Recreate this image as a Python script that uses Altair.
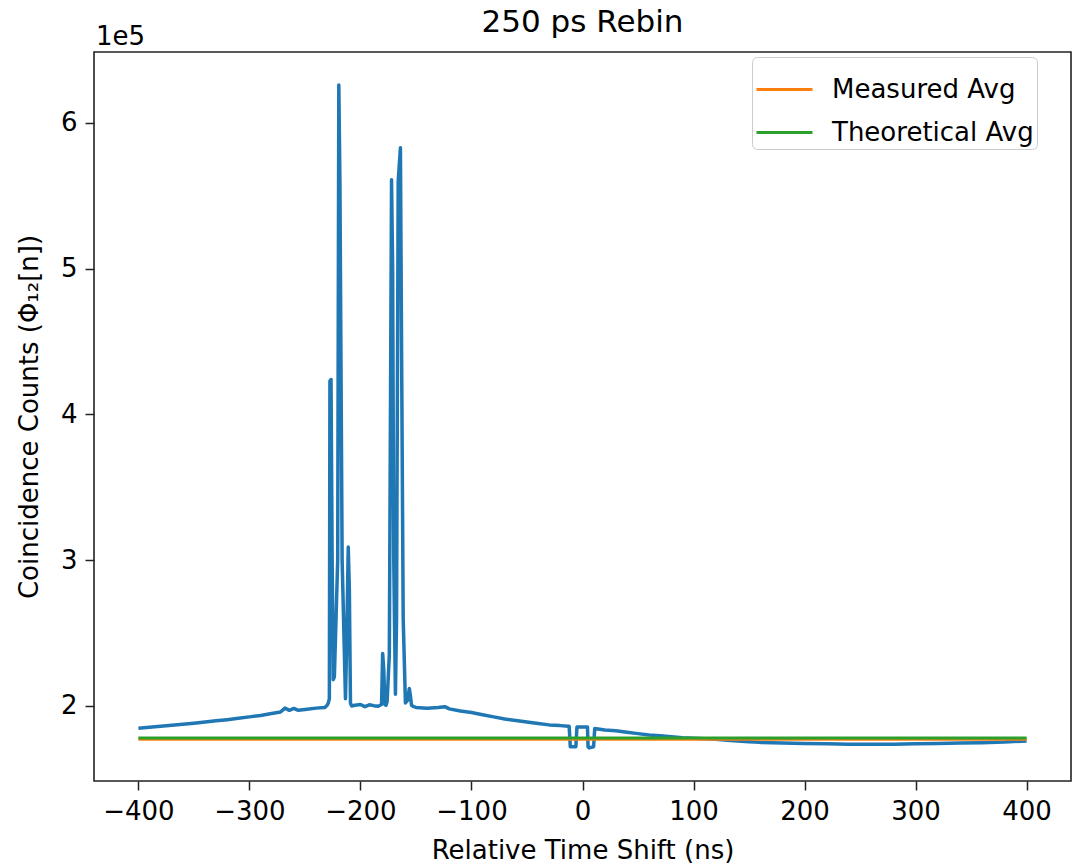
import altair as alt
import pandas as pd

# Relative time shift (ns) and coincidence counts
time_ns = [
    -400, -390, -380, -370, -360, -350, -340, -330, -320, -310, -300, -290,
    -280, -272, -268, -264, -260, -256, -250, -240, -232, -230, -229,
    -228.0, -227.5, -226.5, -225.5, -224.5, -223.5, -220.5, -219.5, -218.5,
    -216.5, -213.5, -212.5, -211.0, -210.0, -209.0, -208.0,
    -205, -200, -196, -192, -188, -184, -181, -180, -179, -178, -177, -176,
    -174, -172.0, -171.0, -170.0, -168.5, -167.5, -166.0, -164.0, -163.0,
    -161.5, -159.5, -157.5, -156.0, -155.0, -154.0, -152,
    -150, -140, -130, -124, -120, -110, -100, -90, -80, -70, -60, -50, -40,
    -30, -20, -13, -12, -11, -6, -5, 4.5, 5, 6, 10, 11, 20, 30, 40, 50, 60,
    70, 80, 90, 100, 110, 120, 130, 140, 150, 160, 180, 200, 220, 240, 260,
    280, 300, 320, 340, 360, 380, 400,
]
counts = [
    184700, 185300, 186000, 186700, 187400, 188200, 189000, 189800, 190600,
    191500, 192500, 193500, 194800, 195800, 198500, 197000, 198300, 197000,
    197500, 198500, 199000, 200500, 202000,
    205000, 423000, 424000, 300000, 218000, 220000, 300000, 626000, 560000,
    300000, 205000, 240000, 309000, 280000, 202000, 200000,
    200500, 201000, 199500, 200800, 200200, 199800, 201000, 236000, 225000,
    201000, 200500, 203000, 235000, 561000, 500000, 300000, 208000, 260000,
    560000, 583000, 450000, 260000, 202000, 204000, 212000, 207000, 200500,
    199500,
    199000, 198500, 199000, 199500, 198000, 196500, 195500, 194000, 192500,
    191000, 190000, 189000, 188000, 187000, 186500, 186000, 186000, 172000,
    172000, 185500, 185500, 172000, 171200, 172000, 184500, 183500, 183000,
    182000, 181000, 180000, 179500, 178800, 178200, 177800, 177500, 177200,
    176500, 176000, 175500, 175000, 174500, 174200, 174000, 173800, 173700,
    173800, 174000, 174200, 174500, 174800, 175200, 176000,
]

series_names = ["Measured Avg", "Theoretical Avg"]
series_colors = ["#ff7f0e", "#2ca02c"]
avg_values = [177200, 178000]
avg_span = [-400, 400]

x_ticks = [-400, -300, -200, -100, 0, 100, 200, 300, 400]
y_ticks = [200000, 300000, 400000, 500000, 600000]

FONT = "DejaVu Sans"

main_df = pd.DataFrame({"t": time_ns, "c": counts})
avg_rows = []
for name, val in zip(series_names, avg_values):
    for t in avg_span:
        avg_rows.append({"t": t, "c": val, "series": name})
avg_df = pd.DataFrame(avg_rows)

x_enc = alt.X(
    "t:Q",
    scale=alt.Scale(domain=[-440, 440], nice=False, zero=False),
    axis=alt.Axis(values=x_ticks, format="d", title="Relative Time Shift (ns)"),
)
y_enc = alt.Y(
    "c:Q",
    scale=alt.Scale(domain=[148500, 648700], nice=False, zero=False),
    axis=alt.Axis(
        values=y_ticks,
        labelExpr="format(datum.value / 100000, 'd')",
        title="Coincidence Counts (Φ₁₂[n])",
    ),
)

main_line = alt.Chart(main_df).mark_line(
    color="#1f77b4", strokeWidth=3.5, strokeJoin="round"
).encode(x=x_enc, y=y_enc, order="t:Q")

avg_lines = alt.Chart(avg_df).mark_line(strokeWidth=3.2).encode(
    x="t:Q",
    y="c:Q",
    color=alt.Color(
        "series:N",
        scale=alt.Scale(domain=series_names, range=series_colors),
        legend=alt.Legend(
            title=None,
            orient="none",
            legendX=658,
            legendY=5,
            symbolType="stroke",
            symbolSize=3136,
            symbolStrokeWidth=3,
            labelFontSize=26,
            labelFont=FONT,
            labelColor="black",
            labelLimit=400,
            labelOffset=18,
            labelExpr="datum.label + '\u00a0\u00a0'",
            rowPadding=-18,
            padding=3,
            strokeColor="#cccccc",
            fillColor="white",
            cornerRadius=5,
        ),
    ),
)

mult_df = pd.DataFrame({"label": ["1e5"]})
mult_text = alt.Chart(mult_df).mark_text(
    align="left", baseline="alphabetic", fontSize=26, font=FONT, color="black"
).encode(x=alt.value(2), y=alt.value(-7), text="label:N")

chart = (
    alt.layer(main_line, avg_lines, mult_text)
    .properties(
        width=977,
        height=729,
        autosize=alt.AutoSizeParams(type="none"),
        padding={"left": 94, "top": 52, "right": 3, "bottom": 83},
        title=alt.TitleParams(
            "250 ps Rebin", fontSize=31, font=FONT, fontWeight="normal",
            color="black", anchor="middle", offset=-15,
        ),
    )
    .configure_view(stroke="#222222", strokeWidth=1.6)
    .configure_axis(
        domain=False,
        grid=False,
        ticks=True,
        tickColor="#222222",
        tickWidth=1.5,
        tickSize=9,
        labelFont=FONT,
        labelFontSize=26,
        labelColor="black",
        labelPadding=8,
        titleFont=FONT,
        titleFontSize=26,
        titleFontWeight="normal",
        titleColor="black",
    )
    .configure_axisX(titlePadding=13)
    .configure_axisY(titlePadding=18)
)

chart.save("out.html", embed_options={"renderer": "svg", "actions": False})
